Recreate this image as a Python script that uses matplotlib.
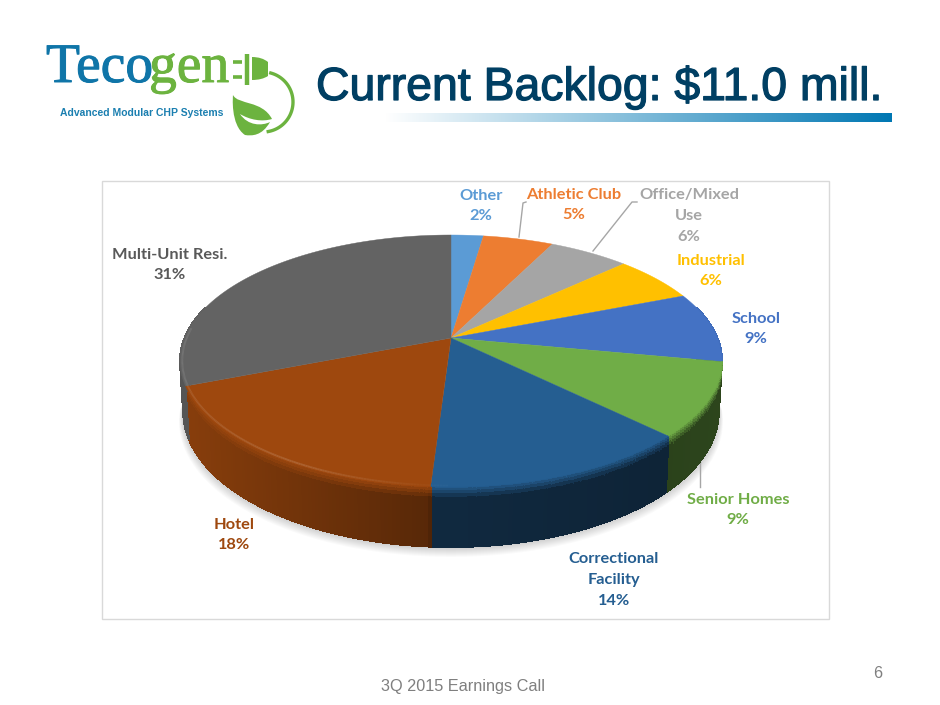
import matplotlib
matplotlib.use('Agg')
import matplotlib.pyplot as plt
import matplotlib.patheffects as pe
import numpy as np
from matplotlib.collections import PolyCollection, LineCollection
from matplotlib.colors import to_rgb, LinearSegmentedColormap
from matplotlib.patches import PathPatch, Rectangle
from matplotlib.path import Path

categories = ['Other', 'Athletic Club', 'Office/Mixed\nUse', 'Industrial', 'School',
              'Senior Homes', 'Correctional\nFacility', 'Hotel', 'Multi-Unit Resi.']
values = [2.3, 5.0, 5.7, 6.0, 9.0, 9.4, 13.6, 18.0, 31.0]
top_colors = ['#5b9bd5', '#ed7d31', '#a5a5a5', '#ffc000', '#4472c4',
              '#70ad47', '#255e91', '#9e480e', '#636363']
label_colors = ['#5b9bd5', '#ed7d31', '#a5a5a5', '#ffc000', '#4472c4',
                '#70ad47', '#255e91', '#9e480e', '#595959']
label_xy = [(481, 206), (574, 205), (689, 216), (711, 271), (756, 329),
            (738, 510), (614, 580), (234, 535), (170, 265)]

# pie geometry in slide pixels, a circle seen in perspective
CX, CY = 451, 338
A, B, K = 266.4, 121.8, 0.1825
DEPTH = 49


def project(angle, r=1.0, t=0.0):
    # angle in degrees clockwise from 12 o'clock, t is 0 at top face, 1 at pie bottom
    u = r * np.sin(np.radians(angle))
    v = r * np.cos(np.radians(angle))
    w = 1 + K * v
    x = CX + A * u / w * (1 - 0.012 * t)
    y = CY - B * v / w + t * DEPTH / w
    return x, y


def blend(color, other, amount):
    return tuple((1 - amount) * c + amount * o for c, o in zip(color, other))


def draw_logo(ax):
    blue, green = '#0f75a8', '#6cb33f'
    thick = [pe.withStroke(linewidth=0.7, foreground=blue)]
    ax.text(46, 82, 'Teco', color=blue, family='Liberation Serif', fontsize=40, va='baseline', path_effects=thick)
    thick = [pe.withStroke(linewidth=0.7, foreground=green)]
    ax.text(149, 82, 'gen', color=green, family='Liberation Serif', fontsize=40, va='baseline', path_effects=thick)
    ax.text(60, 116, 'Advanced Modular CHP Systems', color='#1b7fb0', family='Liberation Sans',
            fontweight='bold', fontsize=7.5, va='baseline')
    for y in (62, 77):
        ax.plot([233, 242], [y, y], color=green, lw=2.6, solid_capstyle='butt')
    ax.plot([247, 247], [54, 85], color=green, lw=3.2, solid_capstyle='butt')
    ax.add_patch(PathPatch(Path([(252, 57), (262, 57), (268, 62), (268, 69), (268, 76), (262, 80), (252, 80), (252, 57)],
                                [Path.MOVETO, Path.CURVE3, Path.CURVE3, Path.CURVE3, Path.CURVE3, Path.CURVE3, Path.CURVE3, Path.CLOSEPOLY]),
                           facecolor=green, edgecolor='none'))
    a = np.radians(np.linspace(-75, 80, 50))
    ax.plot(263 + 30 * np.cos(a), 102 + 30 * np.sin(a), color=green, lw=2.4)
    leaf = Path([(233, 95), (238, 105), (262, 100), (272, 119), (262, 122), (250, 120), (240, 114),
                 (248, 126), (262, 126), (270, 122), (262, 136), (252, 136), (245, 135), (230, 125), (233, 95), (233, 95)],
                [Path.MOVETO, Path.CURVE4, Path.CURVE4, Path.CURVE4, Path.CURVE4, Path.CURVE4, Path.CURVE4,
                 Path.CURVE4, Path.CURVE4, Path.CURVE4, Path.CURVE4, Path.CURVE4, Path.CURVE4, Path.CURVE4, Path.CURVE4, Path.CLOSEPOLY])
    ax.add_patch(PathPatch(leaf, facecolor=green, edgecolor='none'))


def draw_shadow(ax):
    ang = np.linspace(95, 265, 200)
    x, y = project(ang, t=1)
    for i in range(1, 11):
        xs = CX + (x - CX) * (1 + 0.0016 * i)
        ax.fill(xs, y + i * 1.0, color='k', alpha=0.018, lw=0, zorder=1)


def draw_pie(ax):
    edges = np.r_[0, np.cumsum(values)] / np.sum(values) * 360
    # walls first, the top face then hides whatever is behind it
    t_levels = [0, 0.03, 0.07, 0.12, 0.18, 0.25, 1.0]
    quads, colors = [], []
    for a0, a1, col in zip(edges[:-1], edges[1:], top_colors):
        lo, hi = max(a0, 75), min(a1, 285)
        if lo >= hi:
            continue
        base = to_rgb(col)
        ang = np.linspace(lo, hi, max(int((hi - lo) / 0.7), 2))
        for i in range(len(ang) - 1):
            xm = project((ang[i] + ang[i + 1]) / 2)[0]
            shade = np.interp(xm, [180, 425, 432, 660, 722], [0.86, 0.56, 0.44, 0.38, 0.40])
            dark = tuple(c * shade for c in base)
            for j in range(len(t_levels) - 1):
                t0, t1 = t_levels[j], t_levels[j + 1]
                mix = min((t0 + t1) / 2 / 0.2, 1)
                x00, y00 = project(ang[i], t=t0)
                x10, y10 = project(ang[i + 1], t=t0)
                x11, y11 = project(ang[i + 1], t=t1)
                x01, y01 = project(ang[i], t=t1)
                quads.append([(x00, y00), (x10, y10), (x11, y11), (x01, y01)])
                colors.append(blend(base, dark, mix))
    ax.add_collection(PolyCollection(quads, facecolors=colors, edgecolors=colors, linewidths=0.8,
                                     antialiaseds=False, zorder=3))

    for a0, a1, col in zip(edges[:-1], edges[1:], top_colors):
        ang = np.linspace(a0, a1, max(int(a1 - a0) * 2, 4))
        x, y = project(ang)
        ax.fill(np.r_[CX, x], np.r_[CY, y], color=col, lw=0.3, zorder=4)

        # thin bevel just inside the rim, only the left side catches light
        keep = (ang > 180) & (ang < 275)
        if keep.sum() < 2:
            continue
        xr, yr = project(ang[keep], r=0.992)
        pts = np.column_stack([xr, yr])
        segs = np.stack([pts[:-1], pts[1:]], axis=1)
        seg_cols = [blend(to_rgb(col), (1, 1, 1), np.interp(xm, [180, 300, 425], [0.10, 0.14, 0.02])) for xm in xr[:-1]]
        ax.add_collection(LineCollection(segs, colors=seg_cols, linewidths=1.4, zorder=5))


def main():
    fig = plt.figure(figsize=(9.4, 7.05), dpi=100)
    ax = fig.add_axes([0, 0, 1, 1])

    # header
    draw_logo(ax)
    ax.text(316, 100, 'Current Backlog: $11.0 mill.', color='#003f63', family='Liberation Sans',
            fontsize=33.4, va='baseline', ha='left',
            path_effects=[pe.withStroke(linewidth=0.9, foreground='#003f63')])
    cmap = LinearSegmentedColormap.from_list('bar', ['#ffffff', '#0077b3'])
    ax.imshow(np.linspace(0, 1, 256).reshape(1, -1), extent=(385, 892, 122, 113), cmap=cmap, aspect='auto', zorder=1)

    # chart frame
    ax.add_patch(Rectangle((101.5, 180.5), 727, 438, facecolor='white', edgecolor='#d9d9d9', lw=1.0, zorder=0))

    draw_shadow(ax)
    draw_pie(ax)

    # leader lines
    line = dict(color='#a6a6a6', lw=1, zorder=2)
    ax.plot([519, 523, 526], [237, 203, 202], **line)
    ax.plot([593, 632, 637], [251, 202, 202], **line)
    ax.plot([700, 700], [462, 487], **line)

    for name, val, col, (x, y) in zip(categories, values, label_colors, label_xy):
        ax.text(x, y, f'{name}\n{val:.0f}%', color=col, family='Lato', fontweight='bold', fontsize=11.8,
                ha='center', va='center', linespacing=1.62, zorder=6)

    # footer
    ax.text(463, 686, '3Q 2015 Earnings Call', color='#7f7f7f', family='Liberation Sans', fontsize=11.7,
            ha='center', va='center')
    ax.text(878, 673, '6', color='#7f7f7f', family='Liberation Sans', fontsize=11.7, ha='center', va='center')

    ax.set_xlim(0, 940)
    ax.set_ylim(705, 0)
    ax.axis('off')
    fig.savefig('out.png', dpi=100)


if __name__ == '__main__':
    main()
